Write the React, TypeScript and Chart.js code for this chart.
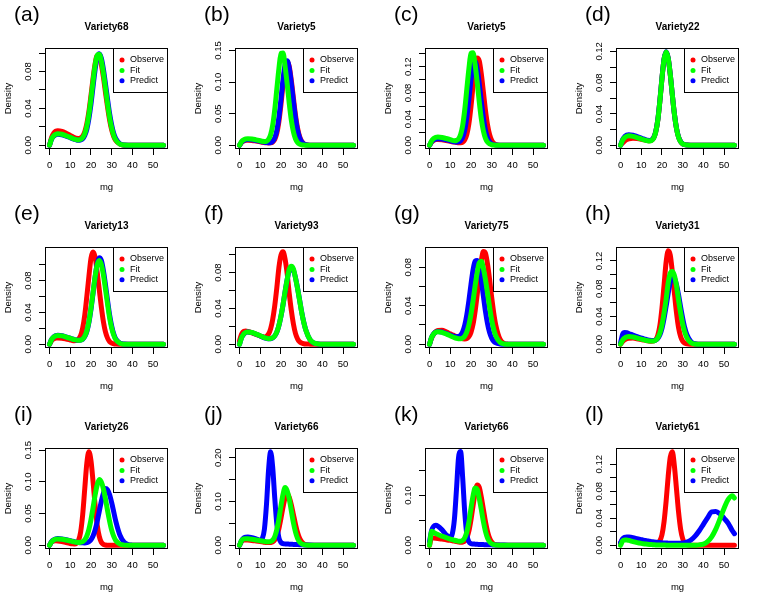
import React, { useEffect, useRef } from "react";
import { Chart, registerables } from "chart.js";
Chart.register(...registerables);

const FONT = '"Liberation Sans", Arial, Helvetica, sans-serif';

// x grid (mg) shared by every density curve
const X_MG = [0, 1, 2, 3, 4, 6, 8, 10, 11, 12, 13, 14, 15, 16, 17, 18, 19, 20, 21, 22, 23, 24, 25, 26, 27, 28, 29, 30, 31, 32, 34, 36, 38, 40, 42, 44, 46, 48, 50, 52, 54, 55];
const X_TICKS = [0, 10, 20, 30, 40, 50];
const X_MIN = -2.2;
const X_MAX = 57.2;

const PANEL_LETTERS = ["(a)", "(b)", "(c)", "(d)", "(e)", "(f)", "(g)", "(h)", "(i)", "(j)", "(k)", "(l)"];
const PANEL_TITLES = ["Variety68", "Variety5", "Variety5", "Variety22", "Variety13", "Variety93", "Variety75", "Variety31", "Variety26", "Variety66", "Variety66", "Variety61"];
const SERIES_NAMES = ["Observe", "Fit", "Predict"];
const SERIES_COLORS = ["#FF0000", "#00FF00", "#0000FF"];

// (a) Variety68
const observeA = [0, .0087, .013, .0152, .0158, .015, .013, .0107, .0095, .0084, .0076, .0073, .0079, .0099, .0146, .0233, .0364, .0539, .0725, .0883, .0972, .0963, .0878, .0741, .0575, .0415, .0273, .0166, .0095, .005, .0012, .0001, 0, 0, 0, 0, 0, 0, 0, 0, 0, 0];
const fitA = [0, .0069, .0103, .012, .0125, .0119, .0103, .0085, .0075, .0066, .0061, .0058, .0063, .0083, .0125, .0206, .0334, .0503, .0695, .0869, .0976, .0988, .0916, .0783, .062, .0451, .0303, .0188, .0106, .0057, .0012, .0002, 0, 0, 0, 0, 0, 0, 0, 0, 0, 0];
const predictA = [0, .0066, .0098, .0115, .012, .0114, .0098, .0082, .0072, .0064, .0057, .0054, .0058, .0071, .0106, .0173, .0289, .0446, .0635, .0822, .0953, .0993, .0945, .0826, .0667, .0501, .0343, .022, .0127, .007, .0016, .0002, 0, 0, 0, 0, 0, 0, 0, 0, 0, 0];
// (b) Variety5
const observeB = [0, .0044, .0066, .0077, .008, .0077, .0066, .0054, .0048, .0043, .0038, .0036, .0038, .0052, .0094, .0192, .0375, .0644, .0964, .1228, .1326, .1245, .1026, .0752, .0482, .0272, .0138, .0062, .0025, .001, .0001, 0, 0, 0, 0, 0, 0, 0, 0, 0, 0, 0];
const fitB = [0, .0058, .0086, .0101, .0105, .01, .0086, .0071, .0063, .006, .0065, .0092, .0166, .0317, .0565, .089, .1211, .1455, .146, .1243, .097, .0662, .0398, .0214, .0103, .0045, .0018, .0007, .0003, .0002, .0001, 0, 0, 0, 0, 0, 0, 0, 0, 0, 0, 0];
const predictB = [0, .005, .0074, .0086, .009, .0086, .0074, .0061, .0054, .0048, .0043, .0041, .0044, .0064, .0117, .0234, .0441, .0729, .1043, .1278, .1338, .1223, .0982, .07, .0437, .024, .012, .0052, .0021, .0008, .0001, 0, 0, 0, 0, 0, 0, 0, 0, 0, 0, 0];
// (c) Variety5
const observeC = [0, .005, .0074, .0086, .009, .0086, .0074, .0061, .0054, .0048, .0043, .0039, .0039, .0048, .0082, .0165, .0332, .0589, .0912, .1201, .1336, .129, .109, .0815, .0535, .031, .0161, .0074, .003, .0011, .0001, 0, 0, 0, 0, 0, 0, 0, 0, 0, 0, 0];
const fitC = [0, .0069, .0103, .012, .0125, .0119, .0103, .0085, .0075, .007, .0075, .0098, .0165, .0305, .0545, .086, .117, .1405, .1415, .1232, .0965, .0665, .0402, .0218, .0106, .0048, .002, .0008, .0004, .0002, .0001, 0, 0, 0, 0, 0, 0, 0, 0, 0, 0, 0];
const predictC = [0, .0055, .0082, .0096, .01, .0095, .0082, .0068, .006, .0053, .005, .0052, .007, .012, .023, .0427, .0702, .1001, .1225, .1281, .1171, .0941, .0672, .042, .0231, .0115, .0051, .0021, .0009, .0003, .0001, 0, 0, 0, 0, 0, 0, 0, 0, 0, 0, 0];
// (d) Variety22
const observeD = [0, .003, .0055, .0072, .0083, .009, .0086, .0077, .0071, .0065, .0059, .0057, .0064, .0094, .0172, .0324, .0568, .0856, .1097, .1192, .1111, .0904, .0643, .0399, .0216, .0104, .0045, .0017, .0007, .0002, 0, 0, 0, 0, 0, 0, 0, 0, 0, 0, 0, 0];
const fitD = [0, .0066, .0098, .0115, .012, .0114, .0098, .0082, .0072, .0064, .0057, .0055, .0062, .0091, .0171, .0324, .0568, .0857, .1098, .1193, .1113, .0906, .0645, .04, .0218, .0102, .0045, .0018, .0008, .0003, .0001, 0, 0, 0, 0, 0, 0, 0, 0, 0, 0, 0];
const predictD = [0, .0074, .0111, .013, .0135, .0128, .0111, .0092, .0081, .0072, .0064, .0062, .0068, .0098, .0176, .0328, .0571, .086, .11, .1195, .1115, .0908, .0646, .0401, .0219, .0107, .0047, .0019, .0008, .0004, .0001, 0, 0, 0, 0, 0, 0, 0, 0, 0, 0, 0];
// (e) Variety13
const observeE = [0, .0044, .0066, .0077, .008, .0076, .0066, .0054, .0048, .0045, .0048, .0064, .0107, .0204, .0366, .06, .0851, .108, .1158, .1095, .0906, .0689, .047, .0284, .0155, .0077, .0033, .0014, .0006, .0003, .0001, 0, 0, 0, 0, 0, 0, 0, 0, 0, 0, 0];
const fitE = [0, .006, .009, .0106, .011, .0105, .009, .0075, .0066, .0058, .0052, .005, .0053, .0066, .0102, .017, .0285, .0453, .0651, .0849, .0998, .1052, .1004, .0871, .0694, .0506, .0332, .0202, .0113, .0057, .0011, .0001, 0, 0, 0, 0, 0, 0, 0, 0, 0, 0];
const predictE = [0, .0062, .0092, .0108, .0112, .0107, .0092, .0076, .0067, .0059, .0053, .005, .0052, .0063, .0096, .016, .0272, .0438, .0638, .0845, .1012, .1087, .1055, .0928, .0749, .0553, .037, .0229, .0129, .0067, .0014, .0002, 0, 0, 0, 0, 0, 0, 0, 0, 0, 0];
// (f) Variety93
const observeF = [.004, .0115, .0145, .0148, .0142, .0128, .011, .0092, .0083, .0082, .0089, .0114, .0171, .0276, .0432, .0631, .0855, .0995, .1032, .095, .0788, .0565, .0378, .0228, .0122, .0061, .0028, .0013, .0006, .0003, .0001, 0, 0, 0, 0, 0, 0, 0, 0, 0, 0, 0];
const fitF = [0, .0076, .0113, .0132, .0138, .0131, .0113, .0094, .0083, .0073, .0067, .0062, .0063, .0072, .0094, .0138, .0211, .0315, .0444, .0591, .0724, .0838, .0872, .0843, .0739, .0622, .049, .0356, .0244, .0158, .0052, .0013, .0003, 0, 0, 0, 0, 0, 0, 0, 0, 0];
const predictF = [0, .0074, .0111, .013, .0136, .013, .0112, .0093, .0082, .0072, .0066, .0061, .0062, .0071, .0093, .0136, .0209, .0312, .0441, .0588, .0722, .0822, .0856, .0828, .0745, .0628, .0495, .036, .0247, .016, .0053, .0013, .0003, 0, 0, 0, 0, 0, 0, 0, 0, 0];
// (g) Variety75
const observeG = [0, .0065, .0105, .013, .0143, .0144, .0128, .0108, .0098, .0088, .0079, .007, .0062, .0056, .0055, .0059, .0078, .0123, .0206, .0341, .0514, .071, .0869, .0962, .0945, .083, .067, .0487, .0324, .0197, .0053, .0009, .0001, 0, 0, 0, 0, 0, 0, 0, 0, 0];
const fitG = [0, .0072, .0107, .0125, .013, .0124, .0107, .0088, .0078, .0069, .0062, .0058, .0057, .0065, .0085, .0129, .0202, .0311, .0449, .0607, .0743, .0845, .086, .0786, .0671, .0529, .0382, .0251, .0153, .0086, .0021, .0003, 0, 0, 0, 0, 0, 0, 0, 0, 0, 0];
const predictG = [0, .0073, .0108, .0127, .0132, .0127, .0112, .0096, .0088, .0082, .0078, .008, .0095, .013, .0198, .0308, .0454, .062, .0771, .0863, .0869, .0794, .0661, .0498, .034, .0213, .0121, .0064, .0031, .0014, .0003, 0, 0, 0, 0, 0, 0, 0, 0, 0, 0, 0];
// (h) Variety31
const observeH = [0, .004, .0065, .008, .0088, .0089, .008, .0068, .0062, .0056, .005, .0045, .0042, .0046, .0066, .013, .027, .052, .0847, .1182, .1345, .1285, .1042, .0739, .0458, .0241, .0113, .0045, .0016, .0006, .0001, 0, 0, 0, 0, 0, 0, 0, 0, 0, 0, 0];
const fitH = [0, .006, .009, .0106, .011, .0105, .009, .0075, .0066, .0058, .0052, .0046, .0045, .0047, .006, .0095, .0162, .0279, .0448, .0648, .0878, .1022, .1048, .0992, .0845, .0637, .0454, .0293, .0176, .0096, .0021, .0003, 0, 0, 0, 0, 0, 0, 0, 0, 0, 0];
const predictH = [.002, .0145, .0168, .0165, .0155, .0132, .011, .009, .008, .0072, .0064, .0057, .0054, .0053, .0061, .0085, .0136, .0228, .0369, .0546, .0733, .0893, .0985, .0953, .0858, .0712, .0538, .0376, .0238, .0141, .0037, .0007, .0001, 0, 0, 0, 0, 0, 0, 0, 0, 0];
// (i) Variety26
const observeI = [0, .005, .0066, .007, .0068, .0058, .0042, .0028, .0023, .0021, .0031, .0076, .0207, .0483, .0892, .1293, .1474, .1335, .1004, .063, .0322, .0139, .0048, .0015, .0004, .0001, 0, 0, 0, 0, 0, 0, 0, 0, 0, 0, 0, 0, 0, 0, 0, 0];
const fitI = [0, .0055, .0082, .0096, .01, .0095, .0082, .0068, .006, .0053, .0047, .0045, .0048, .0058, .0087, .0146, .0251, .0402, .0591, .0791, .095, .1037, .0996, .089, .0731, .0547, .038, .0238, .014, .0075, .0017, .0002, 0, 0, 0, 0, 0, 0, 0, 0, 0, 0];
const predictI = [0, .0058, .0086, .0101, .0105, .01, .0086, .0071, .0063, .0056, .0049, .0044, .004, .0038, .0037, .0041, .0056, .0087, .0146, .024, .0374, .0533, .0692, .082, .0895, .0874, .0796, .0671, .0524, .0377, .0158, .0048, .0011, .0002, 0, 0, 0, 0, 0, 0, 0, 0];
// (j) Variety66
const observeJ = [0, .0088, .0116, .012, .0118, .011, .0098, .0085, .0078, .0071, .0065, .0061, .0064, .0079, .0122, .0218, .0381, .0617, .0872, .1082, .118, .1094, .0925, .0703, .048, .0291, .016, .008, .0036, .0016, .0003, .0001, 0, 0, 0, 0, 0, 0, 0, 0, 0, 0];
const fitJ = [0, .011, .0145, .015, .0148, .0138, .0122, .0105, .0097, .0089, .0081, .008, .0087, .0118, .0199, .0357, .06, .0898, .1163, .1316, .1241, .1054, .0787, .0517, .0306, .0158, .0073, .0031, .0014, .0007, .0002, .0001, 0, 0, 0, 0, 0, 0, 0, 0, 0, 0];
const predictJ = [0, .011, .0165, .0185, .019, .0175, .0145, .0118, .0155, .0365, .0927, .1712, .2135, .178, .1075, .0482, .0171, .0065, .0038, .0031, .0028, .0025, .0022, .002, .0017, .0015, .0013, .0011, .0009, .0007, .0004, .0002, .0001, 0, 0, 0, 0, 0, 0, 0, 0, 0];
// (k) Variety66
const observeK = [0, .015, .0145, .014, .0135, .0125, .0112, .0098, .009, .0082, .0074, .0066, .0058, .0064, .0086, .0149, .0285, .051, .0789, .1051, .121, .116, .0965, .0719, .0471, .0276, .0141, .0064, .0025, .001, .0002, 0, 0, 0, 0, 0, 0, 0, 0, 0, 0, 0];
const fitK = [0, .028, .0255, .0235, .0215, .0182, .0152, .0125, .0113, .0101, .009, .008, .0081, .0097, .015, .0269, .0467, .0735, .0987, .115, .112, .0937, .0715, .0475, .0279, .0145, .0068, .003, .0012, .0005, .0001, 0, 0, 0, 0, 0, 0, 0, 0, 0, 0, 0];
const predictK = [.008, .03, .038, .04, .0385, .031, .021, .0159, .0231, .052, .112, .176, .188, .135, .066, .022, .007, .0033, .0025, .0022, .0019, .0017, .0015, .0013, .0011, .001, .0009, .0008, .0007, .0006, .0004, .0003, .0002, .0001, 0, 0, 0, 0, 0, 0, 0, 0];
// (l) Variety61
const observeL = [.003, .0085, .0098, .01, .0098, .009, .0078, .0066, .006, .0054, .0048, .0043, .0038, .0034, .0032, .0038, .0069, .0155, .0347, .0652, .102, .1305, .1386, .1175, .0838, .0495, .0241, .0099, .0034, .001, .0001, 0, 0, 0, 0, 0, 0, 0, 0, 0, 0, 0];
const fitL = [0, .0065, .0078, .0078, .0072, .0055, .004, .0028, .0023, .0019, .0015, .0012, .001, .0008, .0006, .0005, .0004, .0003, .0003, .0002, .0002, .0002, .0001, .0001, .0001, .0001, .0001, .0001, .0001, .0001, .0001, .0002, .0006, .0018, .0055, .0125, .024, .039, .055, .068, .0733, .07];
const predictL = [.004, .0095, .0118, .0124, .0122, .0112, .0098, .0084, .0077, .0071, .0065, .0059, .0054, .005, .0046, .0043, .004, .0037, .0035, .0033, .0032, .0031, .003, .003, .003, .003, .0031, .0034, .0038, .0046, .0078, .0135, .0215, .031, .0405, .0495, .05, .0465, .04, .0325, .0215, .0172];

const OBSERVE = [observeA, observeB, observeC, observeD, observeE, observeF, observeG, observeH, observeI, observeJ, observeK, observeL];
const FIT = [fitA, fitB, fitC, fitD, fitE, fitF, fitG, fitH, fitI, fitJ, fitK, fitL];
const PREDICT = [predictA, predictB, predictC, predictD, predictE, predictF, predictG, predictH, predictI, predictJ, predictK, predictL];

const Y_MIN = [-0.0041, -0.0059, -0.0057, -0.0048, -0.0047, -0.0042, -0.0039, -0.0054, -0.0059, -0.0085, -0.0075, -0.0055];
const Y_MAX = [0.1056, 0.1539, 0.1487, 0.1243, 0.1222, 0.1086, 0.1009, 0.14, 0.1533, 0.222, 0.195, 0.1441];
const Y_TICKS = [
  [0, 0.02, 0.04, 0.06, 0.08, 0.1],
  [0, 0.05, 0.1, 0.15],
  [0, 0.02, 0.04, 0.06, 0.08, 0.1, 0.12, 0.14],
  [0, 0.02, 0.04, 0.06, 0.08, 0.1, 0.12],
  [0, 0.02, 0.04, 0.06, 0.08, 0.1],
  [0, 0.02, 0.04, 0.06, 0.08, 0.1],
  [0, 0.02, 0.04, 0.06, 0.08],
  [0, 0.02, 0.04, 0.06, 0.08, 0.1, 0.12],
  [0, 0.05, 0.1, 0.15],
  [0, 0.05, 0.1, 0.15, 0.2],
  [0, 0.05, 0.1, 0.15],
  [0, 0.02, 0.04, 0.06, 0.08, 0.1, 0.12],
];
const Y_LABELS = [
  [0, 0.04, 0.08],
  [0, 0.05, 0.1, 0.15],
  [0, 0.04, 0.08, 0.12],
  [0, 0.04, 0.08, 0.12],
  [0, 0.04, 0.08],
  [0, 0.04, 0.08],
  [0, 0.04, 0.08],
  [0, 0.04, 0.08, 0.12],
  [0, 0.05, 0.1, 0.15],
  [0, 0.1, 0.2],
  [0, 0.1],
  [0, 0.04, 0.08, 0.12],
];

const COL_LEFT = [0, 190, 380, 571];
const ROW_TOP = [0, 199, 400];

function Panel({ idx }: { idx: number }) {
  const ref = useRef<HTMLCanvasElement>(null);
  const col = idx % 4;
  const row = Math.floor(idx / 4);
  const W = col === 3 ? 192 : 190;
  const H = 200;
  const PLOT_RIGHT = 168;
  const PLOT_TOP = 48;
  const PLOT_BOTTOM = 149;

  useEffect(() => {
    const canvas = ref.current;
    if (!canvas) return;

    const decor = {
      id: "decor" + idx,
      afterDraw(chart: any) {
        const { ctx, chartArea: a } = chart;
        const ys = chart.scales.y;
        ctx.save();
        ctx.fillStyle = "#000";
        ctx.strokeStyle = "#000";
        ctx.lineWidth = 1;
        const L = Math.round(a.left) + 0.5;
        const T = Math.round(a.top) + 0.5;
        const R = Math.round(a.right) - 0.5;
        const B = Math.round(a.bottom) - 0.5;
        ctx.strokeRect(L, T, R - L, B - T);

        ctx.font = `9.5px ${FONT}`;
        ctx.textAlign = "center";
        ctx.textBaseline = "middle";
        for (const v of Y_LABELS[idx]) {
          const py = ys.getPixelForValue(v);
          ctx.save();
          ctx.translate(a.left - 17, py);
          ctx.rotate(-Math.PI / 2);
          ctx.fillText(v.toFixed(2), 0, 0);
          ctx.restore();
        }
        ctx.save();
        ctx.translate(a.left - 37, (a.top + a.bottom) / 2);
        ctx.rotate(-Math.PI / 2);
        ctx.fillText("Density", 0, 0);
        ctx.restore();
        ctx.fillText("mg", (a.left + a.right) / 2, a.bottom + 38);

        ctx.font = `bold 10px ${FONT}`;
        ctx.fillText(PANEL_TITLES[idx], (a.left + a.right) / 2, a.top - 21);

        ctx.font = `21px ${FONT}`;
        ctx.textAlign = "left";
        ctx.fillText(PANEL_LETTERS[idx], 14, a.top - 33);

        const lx = Math.round(a.right - 55) + 0.5;
        ctx.strokeRect(lx, T, R - lx, 44);
        ctx.font = `9px ${FONT}`;
        SERIES_NAMES.forEach((name, k) => {
          const yy = a.top + 12 + k * 10.4;
          ctx.fillStyle = SERIES_COLORS[k];
          ctx.beginPath();
          ctx.arc(a.right - 46, yy, 2.5, 0, Math.PI * 2);
          ctx.fill();
          ctx.fillStyle = "#000";
          ctx.fillText(name, a.right - 38, yy);
        });
        ctx.restore();
      },
    };

    const mk = (k: number, ys: number[], order: number) => ({
      label: SERIES_NAMES[k],
      data: X_MG.map((x, i) => ({ x, y: ys[i] })),
      borderColor: SERIES_COLORS[k],
      backgroundColor: SERIES_COLORS[k],
      borderWidth: 5,
      pointRadius: 0,
      fill: false,
      order,
      cubicInterpolationMode: "monotone",
      borderCapStyle: "round",
      borderJoinStyle: "round",
    });

    const axisGrid = {
      display: true,
      drawOnChartArea: false,
      drawTicks: true,
      tickLength: 6,
      color: "#000",
      lineWidth: 1,
    };

    const chart = new Chart(canvas, {
      type: "line",
      data: {
        datasets: [
          mk(0, OBSERVE[idx], 2),
          mk(1, FIT[idx], 0),
          mk(2, PREDICT[idx], 1),
        ] as any,
      },
      options: {
        animation: false,
        responsive: false,
        events: [],
        layout: { padding: { top: PLOT_TOP, right: W - PLOT_RIGHT, left: 0, bottom: 0 } },
        plugins: {
          legend: { display: false },
          tooltip: { enabled: false },
          title: { display: false },
        },
        scales: {
          x: {
            type: "linear",
            min: X_MIN,
            max: X_MAX,
            bounds: "data",
            afterBuildTicks: (s: any) => {
              s.ticks = X_TICKS.map((v) => ({ value: v }));
            },
            afterFit: (s: any) => {
              s.height = H - PLOT_BOTTOM;
            },
            grid: axisGrid,
            border: { display: false },
            ticks: {
              color: "#000",
              font: { family: FONT, size: 9.5 },
              padding: 5,
              maxRotation: 0,
              minRotation: 0,
              autoSkip: false,
              callback: (v: any) => String(v),
            },
          },
          y: {
            type: "linear",
            min: Y_MIN[idx],
            max: Y_MAX[idx],
            bounds: "data",
            afterBuildTicks: (s: any) => {
              s.ticks = Y_TICKS[idx].map((v) => ({ value: v }));
            },
            afterFit: (s: any) => {
              s.width = 45;
            },
            grid: axisGrid,
            border: { display: false },
            ticks: { display: false },
          },
        },
      } as any,
      plugins: [decor],
    });
    return () => chart.destroy();
  }, [idx]);

  return (
    <canvas
      ref={ref}
      width={W}
      height={H}
      style={{ position: "absolute", left: COL_LEFT[col], top: ROW_TOP[row], width: W, height: H }}
    />
  );
}

export default function App() {
  return (
    <div style={{ position: "absolute", left: 0, top: 0, width: 763, height: 604, background: "#fff", overflow: "hidden" }}>
      {PANEL_TITLES.map((_, i) => (
        <Panel key={i} idx={i} />
      ))}
    </div>
  );
}
